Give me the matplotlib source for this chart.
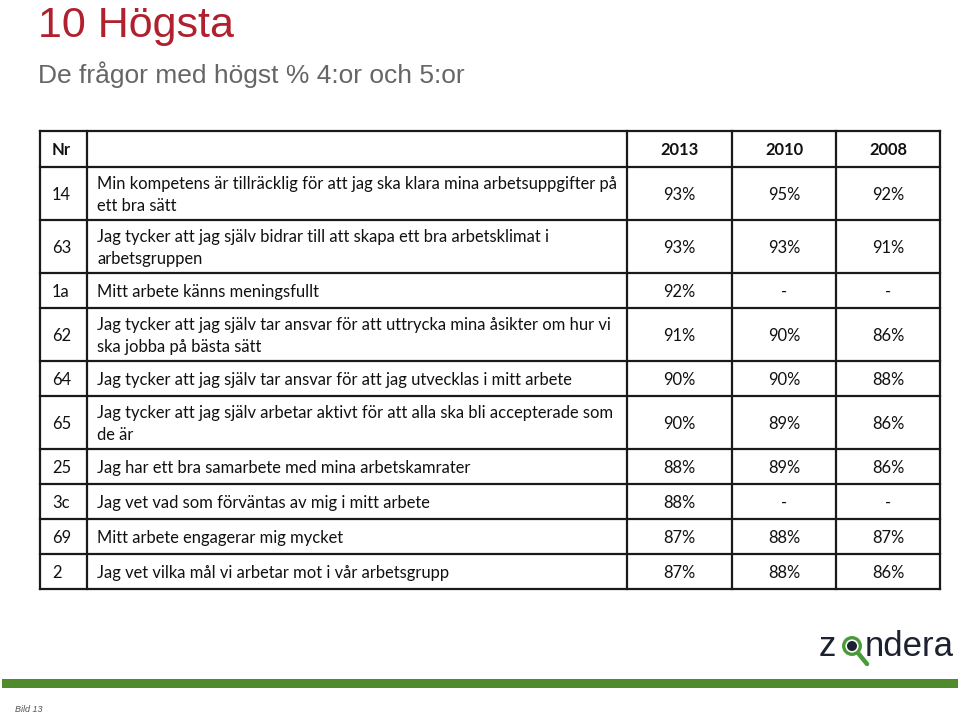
import matplotlib
matplotlib.use("Agg")
from matplotlib import pyplot as plt
from matplotlib.patches import Rectangle, Circle

title = "10 Högsta"
subtitle = "De frågor med högst % 4:or och 5:or"
years = ["2013", "2010", "2008"]

nrs = ["14", "63", "1a", "62", "64", "65", "25", "3c", "69", "2"]
questions = [
    "Min kompetens är tillräcklig för att jag ska klara mina arbetsuppgifter på\nett bra sätt",
    "Jag tycker att jag själv bidrar till att skapa ett bra arbetsklimat i\narbetsgruppen",
    "Mitt arbete känns meningsfullt",
    "Jag tycker att jag själv tar ansvar för att uttrycka mina åsikter om hur vi\nska jobba på bästa sätt",
    "Jag tycker att jag själv tar ansvar för att jag utvecklas i mitt arbete",
    "Jag tycker att jag själv arbetar aktivt för att alla ska bli accepterade som\nde är",
    "Jag har ett bra samarbete med mina arbetskamrater",
    "Jag vet vad som förväntas av mig i mitt arbete",
    "Mitt arbete engagerar mig mycket",
    "Jag vet vilka mål vi arbetar mot i vår arbetsgrupp",
]
v2013 = [93, 93, 92, 91, 90, 90, 88, 88, 87, 87]
v2010 = [95, 93, None, 90, 90, 89, 89, None, 88, 88]
v2008 = [92, 91, None, 86, 88, 86, 86, None, 87, 86]


def fmt(v):
    return "-" if v is None else f"{v}%"


fig = plt.figure(figsize=(9.6, 7.14), dpi=100)
ax = fig.add_axes([0, 0, 1, 1])
ax.set_xlim(0, 960)
ax.set_ylim(714, 0)
ax.axis("off")

# titles
ax.text(38, 37, title, fontsize=31, color="#b0202e", family="Liberation Sans",
        va="baseline", ha="left")
ax.text(38, 83, subtitle, fontsize=19, color="#666666", family="Liberation Sans",
        va="baseline", ha="left")

# table layout
cols = [40, 87, 627, 732, 836, 940]
top = 131
head_h = 36
row_h = [53 if "\n" in q else 35 for q in questions]
edges = [top, top + head_h]
for h in row_h:
    edges.append(edges[-1] + h)

tfont = dict(family="Lato", fontsize=11.9, color="#111111")
ax.text(52, top + head_h / 2 + 1, "Nr", ha="left", va="center", fontweight="bold", **tfont)
for j, y in enumerate(years):
    cx = (cols[j + 2] + cols[j + 3]) / 2
    ax.text(cx, top + head_h / 2 + 1, y, ha="center", va="center", fontweight="bold", **tfont)

for i in range(len(nrs)):
    cy = (edges[i + 1] + edges[i + 2]) / 2 + 1.5
    ax.text(52, cy, nrs[i], ha="left", va="center", **tfont)
    ax.text(97, cy, questions[i], ha="left", va="center", linespacing=1.45, **tfont)
    for j, vals in enumerate([v2013, v2010, v2008]):
        cx = (cols[j + 2] + cols[j + 3]) / 2
        ax.text(cx, cy, fmt(vals[i]), ha="center", va="center", **tfont)

for y in edges:
    ax.plot([cols[0], cols[-1]], [y, y], color="#1a1a1a", lw=1.6, solid_capstyle="projecting")
for x in cols:
    ax.plot([x, x], [edges[0], edges[-1]], color="#1a1a1a", lw=1.6, solid_capstyle="projecting")

# footer
ax.add_patch(Rectangle((2, 679), 956, 9, color="#4f8a2c", lw=0))
ax.text(15, 709, "Bild 13", fontsize=6.5, style="italic", color="#555555",
        va="center", ha="left", family="Liberation Sans")

# logo
lfont = dict(family="Liberation Sans", fontsize=25, color="#1c2230", va="baseline")
ax.text(819, 656, "z", ha="left", **lfont)
ax.text(865, 656, "ndera", ha="left", **lfont)
ax.plot([858, 867], [653, 664], color="#4a9a3a", lw=3.2, solid_capstyle="round")
ax.add_patch(Circle((852, 646), 8.3, facecolor="white", edgecolor="#4a9a3a", lw=2.4))
ax.add_patch(Circle((852, 646), 5, facecolor="#1c2230", lw=0))

fig.savefig("out.png", dpi=100)
